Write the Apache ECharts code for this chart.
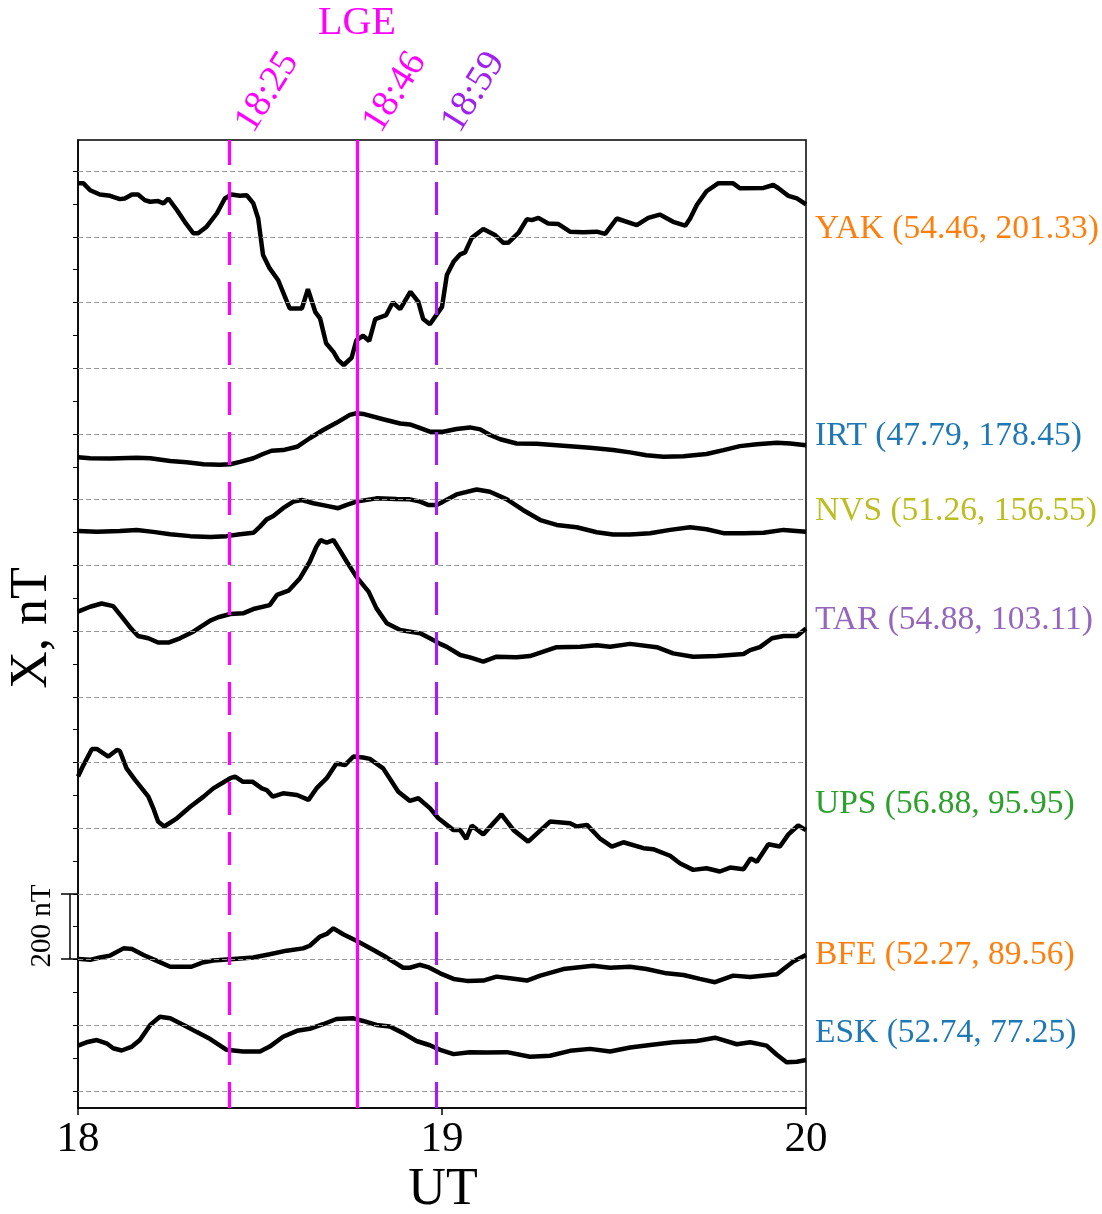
<!DOCTYPE html>
<html>
<head>
<meta charset="utf-8">
<script src="https://cdn.jsdelivr.net/npm/echarts@6/dist/echarts.min.js"></script>
<style>
  html, body { margin: 0; padding: 0; background: #fff; }
  #chart { width: 1102px; height: 1214px; }
</style>
</head>
<body>
<div id="chart"></div>
<script>
// time in minutes after 18:00 UT, X in nT (stacked, with offsets already in)
var yak = [[0,2763],[0.9,2763],[2.0,2742],[3.6,2729],[5.3,2725],[6.9,2715],[7.7,2717],[8.9,2729],[9.9,2729],[11.0,2712],[11.9,2707],[13.2,2709],[14.1,2702],[14.9,2717],[16.3,2682],[17.6,2646],[19.0,2611],[19.8,2611],[21.2,2631],[22.9,2672],[24.2,2717],[25.3,2729],[26.7,2725],[27.8,2727],[28.9,2702],[29.7,2656],[30.5,2545],[31.6,2504],[33.0,2468],[34.1,2418],[34.9,2382],[36.9,2382],[37.9,2441],[39.1,2372],[39.9,2352],[40.9,2276],[42.1,2250],[42.9,2225],[43.8,2210],[45.1,2232],[45.9,2286],[47.0,2299],[48.0,2283],[49.0,2350],[50.8,2362],[51.9,2401],[53.1,2380],[54.8,2433],[56.1,2402],[56.9,2350],[58.0,2334],[60.0,2387],[60.8,2484],[61.9,2524],[63.0,2547],[63.8,2553],[64.9,2597],[66.8,2624],[68.8,2605],[70.1,2582],[70.9,2582],[72.6,2612],[74.0,2654],[74.8,2651],[75.9,2658],[77.5,2641],[79.2,2639],[81.1,2616],[83.3,2614],[85.5,2616],[86.9,2609],[88.8,2656],[92.1,2636],[94.0,2658],[95.9,2668],[98.1,2646],[100.1,2634],[100.9,2656],[102.0,2697],[103.6,2739],[105.5,2763],[108.0,2763],[109.1,2748],[113.0,2749],[114.6,2758],[115.4,2749],[117.1,2725],[118.5,2717],[120,2699]];
var irt = [[0,1929],[2.0,1926],[5.3,1925],[9.7,1928],[11.9,1926],[15.2,1918],[17.9,1914],[20.7,1908],[23.4,1906],[25.1,1908],[26.7,1915],[28.9,1926],[30.5,1939],[31.9,1949],[33.8,1951],[36.1,1961],[38.2,1987],[40.4,2012],[42.6,2034],[44.8,2058],[45.9,2063],[47.0,2061],[50.3,2045],[53.1,2032],[54.7,2029],[56.1,2020],[58.0,2007],[60.2,2007],[62.4,2015],[64.6,2020],[66.3,2014],[67.9,1997],[69.6,1984],[72.3,1971],[75.6,1970],[80.0,1964],[84.4,1958],[88.2,1951],[91.0,1944],[93.7,1935],[96.5,1931],[99.8,1932],[103.6,1939],[106.4,1951],[109.1,1963],[111.9,1969],[115.2,1973],[117.4,1971],[120,1966]];
var nvs = [[0,1705],[3.1,1702],[6.9,1705],[9.7,1708],[12.4,1702],[15.2,1695],[18.5,1689],[21.8,1686],[24.5,1689],[26.7,1695],[28.9,1699],[30.0,1718],[31.1,1740],[32.2,1750],[33.8,1774],[35.5,1794],[36.9,1799],[38.8,1789],[41.0,1781],[42.9,1774],[44.3,1784],[45.9,1794],[49.2,1804],[52.5,1802],[54.7,1801],[56.4,1794],[57.7,1784],[59.1,1784],[60.2,1794],[62.4,1816],[65.7,1831],[67.9,1824],[70.7,1801],[73.4,1768],[76.2,1738],[78.9,1723],[82.2,1716],[85.5,1701],[88.2,1694],[91.0,1694],[94.3,1698],[97.6,1708],[100.9,1716],[103.6,1710],[106.4,1698],[109.7,1698],[113.0,1699],[116.3,1708],[120,1702]];
var tar = [[0,1459],[2.0,1474],[3.9,1484],[5.8,1476],[7.2,1444],[8.6,1411],[9.9,1385],[11.6,1378],[13.2,1365],[14.9,1365],[16.8,1378],[19.0,1398],[21.8,1432],[23.1,1442],[25.1,1452],[27.2,1454],[28.9,1467],[31.6,1479],[32.8,1510],[34.7,1523],[36.6,1561],[38.2,1611],[39.3,1657],[40.0,1677],[41.0,1669],[42.1,1677],[43.2,1645],[44.3,1611],[45.9,1565],[47.9,1520],[49.2,1469],[50.9,1424],[53.1,1403],[56.4,1393],[58.0,1378],[59.7,1361],[60.8,1352],[63.0,1327],[64.6,1320],[66.8,1307],[69.0,1322],[72.3,1320],[74.5,1324],[78.9,1351],[82.8,1352],[85.5,1357],[87.7,1352],[91.0,1361],[95.4,1351],[98.1,1332],[101.4,1322],[105.3,1324],[109.7,1330],[110.8,1342],[112.4,1351],[114.4,1378],[116.3,1385],[118.5,1385],[120,1408]];
var ups = [[0,957],[0.9,992],[2.3,1041],[3.1,1041],[5.0,1018],[6.4,1038],[6.9,1035],[8.0,982],[9.4,947],[11.6,896],[12.4,861],[13.2,820],[14.2,805],[16.3,830],[18.5,865],[20.7,896],[22.3,921],[25.1,952],[25.9,957],[27.2,941],[28.8,941],[30.3,921],[31.1,916],[32.1,896],[33.8,906],[36.1,901],[38.0,886],[39.3,921],[41.0,952],[42.6,997],[44.0,992],[45.4,1018],[47.0,1015],[48.1,1011],[50.3,982],[52.8,911],[54.7,883],[56.1,891],[58.0,861],[59.4,830],[61.9,794],[63.0,794],[64.0,767],[64.9,808],[66.8,781],[69.8,842],[71.8,794],[74.2,759],[77.8,820],[81.1,815],[82.2,805],[83.9,810],[86.0,769],[88.0,744],[89.9,757],[93.2,739],[94.8,736],[97.6,716],[99.2,693],[101.4,673],[103.6,678],[105.8,668],[107.5,680],[109.7,675],[110.9,708],[111.9,698],[113.8,751],[115.7,744],[117.1,781],[118.7,808],[120,794]];
var bfe = [[0,402],[2.0,399],[3.6,406],[5.3,412],[7.5,434],[8.9,432],[10.8,414],[13.0,396],[15.2,378],[18.7,378],[20.7,392],[22.3,397],[25.1,401],[28.9,406],[31.6,416],[34.4,427],[37.1,434],[38.2,442],[39.9,470],[41.0,478],[42.1,495],[43.7,477],[45.9,457],[48.7,429],[50.9,406],[53.6,375],[54.7,375],[56.3,384],[57.7,377],[59.7,358],[61.9,341],[64.1,335],[66.8,336],[69.0,348],[71.2,343],[74.0,336],[76.2,351],[80.0,371],[84.9,381],[87.7,375],[91.0,378],[93.7,371],[97.0,358],[99.8,353],[102.5,341],[105.0,331],[108.0,351],[110.8,347],[115.2,355],[117.9,394],[120,414]];
var esk = [[0,138],[1.4,148],[3.1,155],[4.7,145],[5.8,130],[7.2,123],[8.9,135],[10.2,155],[11.9,201],[13.5,226],[15.2,221],[17.4,201],[19.6,179],[21.8,158],[24.5,125],[27.2,120],[30.0,120],[31.6,135],[33.8,165],[36.1,183],[38.2,189],[40.4,203],[42.6,219],[45.4,221],[47.0,213],[49.2,201],[51.4,196],[53.6,176],[55.8,152],[58.0,139],[59.7,125],[61.9,112],[64.6,118],[67.4,117],[70.7,118],[74.5,104],[77.8,107],[81.1,122],[84.4,128],[87.7,120],[91.0,132],[94.3,140],[98.1,148],[102.0,152],[105.0,162],[108.6,142],[110.8,148],[113.5,138],[115.2,110],[116.8,87],[118.5,89],[120,94]];

var stationNames = ['YAK (54.46, 201.33)', 'IRT (47.79, 178.45)', 'NVS (51.26, 156.55)', 'TAR (54.88, 103.11)',
                    'UPS (56.88, 95.95)', 'BFE (52.27, 89.56)', 'ESK (52.74, 77.25)'];
var stationColors = ['#ff7f0e', '#1f77b4', '#bcbd22', '#9467bd', '#2ca02c', '#ff7f0e', '#1f77b4'];
var stationLabelY = [229, 436, 511, 620, 804, 955, 1033];

// event times (minutes after 18:00)
var eventMin = [25, 46, 59];
var eventText = ['18:25', '18:46', '18:59'];
var eventColors = ['#ff00ff', '#ff00ff', '#a020f0'];
var eventDashed = [true, false, true];

var gridLevels = [0, 200, 400, 600, 800, 1000, 1200, 1400, 1600, 1800, 2000, 2200, 2400, 2600, 2800];
var tickLevels = [0, 100, 200, 300, 400, 500, 600, 700, 800, 900, 1000, 1100, 1200, 1300, 1400,
                  1500, 1600, 1700, 1800, 1900, 2000, 2100, 2200, 2300, 2400, 2500, 2600, 2700, 2800];

var serif = "'Liberation Serif', 'Times New Roman', serif";

var myChart = echarts.init(document.getElementById('chart'));

var curves = [yak, irt, nvs, tar, ups, bfe, esk].map(function (d) {
    return {
        type: 'line', data: d, showSymbol: false, z: 3,
        lineStyle: { color: '#000', width: 4.5 }
    };
});

// grid lines
curves.push({
    type: 'line', data: [], z: 1,
    markLine: {
        silent: true, symbol: ['none', 'none'], label: { show: false },
        lineStyle: { color: '#999', width: 1.2, type: [5, 3] },
        data: gridLevels.map(function (v) { return { yAxis: v }; })
    }
});

// event lines
curves.push({
    type: 'line', data: [], z: 5,
    markLine: {
        silent: true, symbol: ['none', 'none'], label: { show: false },
        data: eventMin.map(function (m, i) {
            return {
                xAxis: m,
                lineStyle: { color: eventColors[i], width: 3.2, type: eventDashed[i] ? [33, 17] : 'solid', dashOffset: 7 }
            };
        })
    }
});

var graphics = [];
stationNames.forEach(function (s, i) {
    graphics.push({
        type: 'text', x: 815, y: stationLabelY[i],
        style: { text: s, fill: stationColors[i], font: '33.5px ' + serif, textAlign: 'left', textVerticalAlign: 'middle' }
    });
});
eventText.forEach(function (t, i) {
    var px = 78 + eventMin[i] * 728 / 120;
    graphics.push({
        type: 'text', x: px + 31, y: 139, rotation: 58 * Math.PI / 180,
        style: { text: t, fill: eventColors[i], font: '38px ' + serif, textAlign: 'left', textVerticalAlign: 'bottom' }
    });
});
graphics.push({
    type: 'text', x: 357, y: 23,
    style: { text: 'LGE', fill: '#ff00ff', font: '40px ' + serif, textAlign: 'center', textVerticalAlign: 'middle' }
});
graphics.push({
    type: 'text', x: 32, y: 628, rotation: Math.PI / 2,
    style: { text: 'X, nT', fill: '#000', font: '52px ' + serif, textAlign: 'center', textVerticalAlign: 'middle' }
});
graphics.push({
    type: 'text', x: 443, y: 1190,
    style: { text: 'UT', fill: '#000', font: '52px ' + serif, textAlign: 'center', textVerticalAlign: 'middle' }
});
// 200 nT scale bar
graphics.push({
    type: 'group',
    children: [
        { type: 'line', shape: { x1: 70, y1: 894, x2: 70, y2: 959 }, style: { stroke: '#000', lineWidth: 1.5 } },
        { type: 'line', shape: { x1: 61, y1: 894, x2: 78, y2: 894 }, style: { stroke: '#000', lineWidth: 1.5 } },
        { type: 'line', shape: { x1: 61, y1: 959, x2: 78, y2: 959 }, style: { stroke: '#000', lineWidth: 1.5 } }
    ]
});
graphics.push({
    type: 'text', x: 42, y: 926, rotation: Math.PI / 2,
    style: { text: '200 nT', fill: '#000', font: '29px ' + serif, textAlign: 'center', textVerticalAlign: 'middle' }
});

var option = {
    backgroundColor: '#fff',
    animation: false,
    grid: { left: 78, right: 296, top: 140, bottom: 106, show: true, borderColor: '#000', borderWidth: 1.5, containLabel: false },
    xAxis: {
        type: 'value', min: 0, max: 120, interval: 60,
        axisLine: { onZero: false, lineStyle: { color: '#000', width: 1.5 } },
        axisTick: { show: true, inside: false, length: 7, lineStyle: { color: '#000', width: 1.5 } },
        minorTick: { show: false },
        axisLabel: {
            margin: 10, color: '#000', fontSize: 43, fontFamily: serif,
            formatter: function (v) { return String(18 + v / 60); }
        },
        splitLine: { show: false }
    },
    yAxis: {
        type: 'value', min: -52, max: 2895,
        axisLine: { show: true, onZero: false, lineStyle: { color: '#000', width: 1.5 } },
        axisTick: { show: true, inside: false, length: 5, customValues: tickLevels, lineStyle: { color: '#000', width: 1 } },
        axisLabel: { show: false },
        splitLine: { show: false }
    },
    series: curves,
    graphic: graphics
};
myChart.setOption(option);
</script>
</body>
</html>
